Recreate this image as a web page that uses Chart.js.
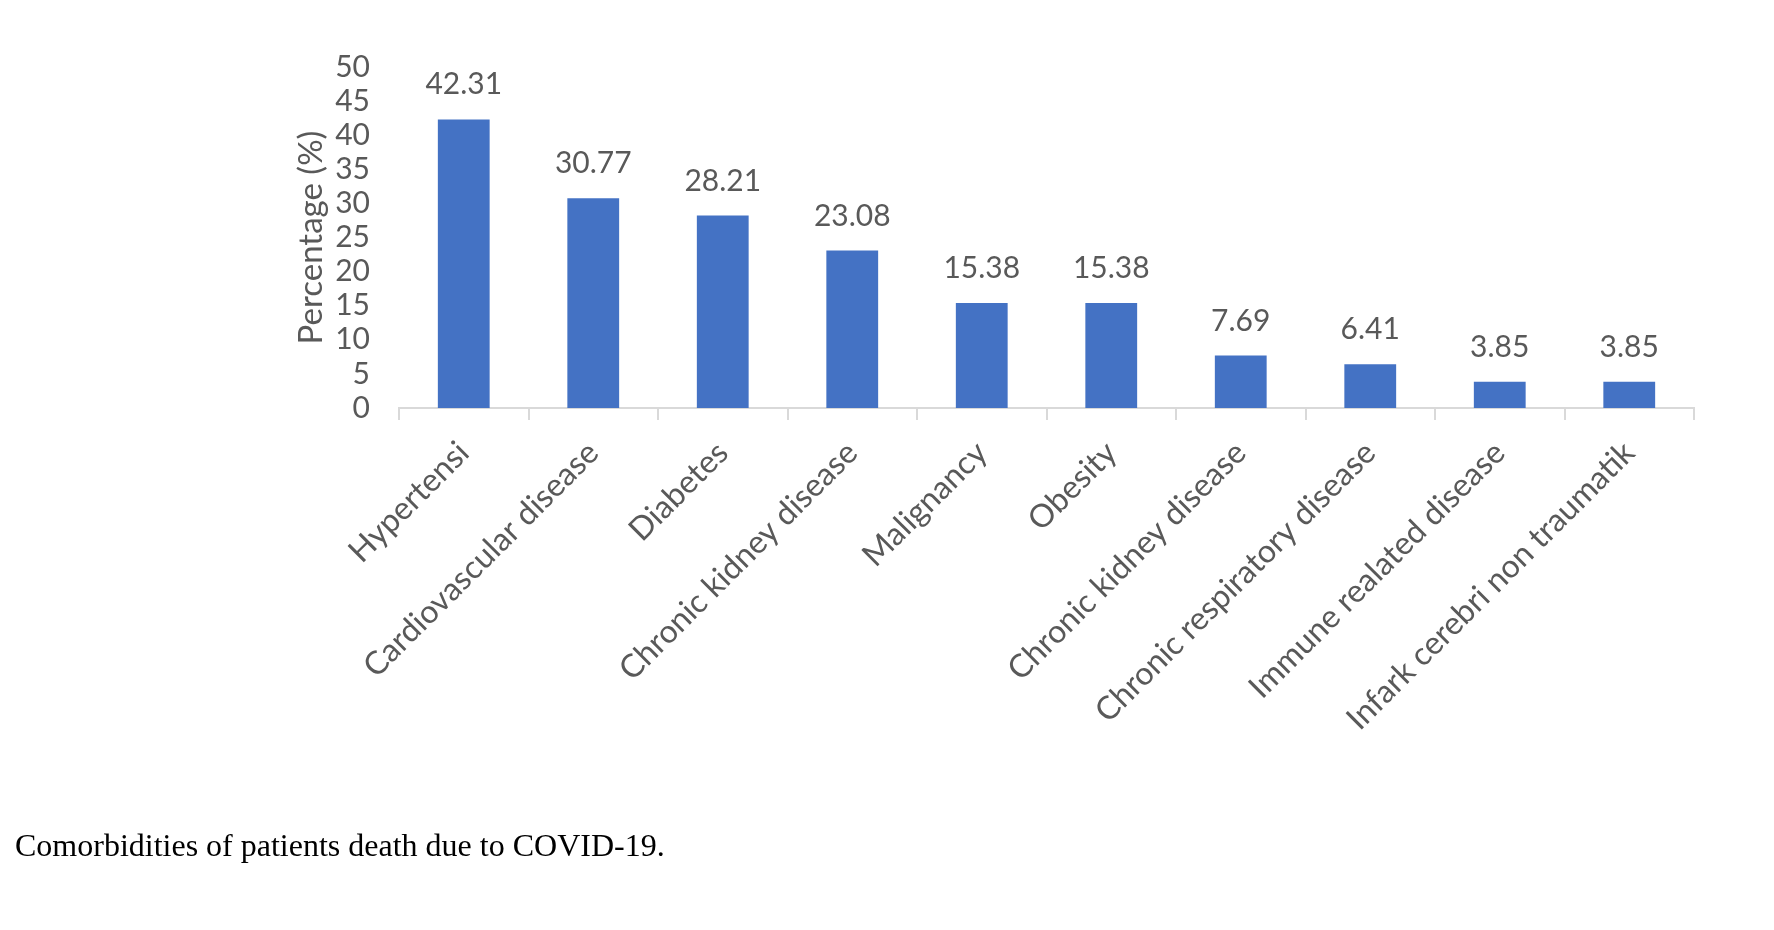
<!DOCTYPE html>
<html>
<head>
<meta charset="utf-8">
<title>Comorbidities of patients death due to COVID-19</title>
<script src="https://cdn.jsdelivr.net/npm/chart.js@4/dist/chart.umd.min.js"></script>
<style>
  body { margin: 0; background: #fff; }
  .wrap { position: relative; width: 1774px; height: 930px; }
  #chart { position: absolute; left: 0; top: 0; }
  .caption {
    position: absolute; left: 15px; top: 829px;
    font-family: "Liberation Serif", "Times New Roman", serif;
    font-size: 32px; line-height: 32px; color: #000;
  }
</style>
</head>
<body>
<div class="wrap">
  <canvas id="chart" width="1774" height="930"></canvas>
  <div class="caption">Comorbidities of patients death due to COVID-19.</div>
</div>
<script>
const categories = [
  'Hypertensi',
  'Cardiovascular disease',
  'Diabetes',
  'Chronic kidney disease',
  'Malignancy',
  'Obesity',
  'Chronic kidney disease',
  'Chronic respiratory disease',
  'Immune realated disease',
  'Infark cerebri non traumatik',
];
const percentages = [42.31, 30.77, 28.21, 23.08, 15.38, 15.38, 7.69, 6.41, 3.85, 3.85];
const yTicks = [0, 5, 10, 15, 20, 25, 30, 35, 40, 45, 50];

const textColor = '#595959';
const fontFamily = 'Lato, "Open Sans", sans-serif';

// value labels above each bar
const valueLabels = {
  id: 'valueLabels',
  afterDatasetsDraw(chart) {
    const { ctx } = chart;
    const meta = chart.getDatasetMeta(0);
    ctx.save();
    ctx.font = '30px ' + fontFamily;
    ctx.fillStyle = textColor;
    ctx.textAlign = 'center';
    ctx.textBaseline = 'alphabetic';
    meta.data.forEach((bar, i) => {
      ctx.fillText(percentages[i].toFixed(2), bar.x, bar.y - 25);
    });
    ctx.restore();
  },
};

const ctx = document.getElementById('chart').getContext('2d');
const chart = new Chart(ctx, {
  type: 'bar',
  data: {
    labels: categories,
    datasets: [{
      data: percentages,
      backgroundColor: '#4472C4',
      categoryPercentage: 1,
      barPercentage: 0.4,
    }],
  },
  options: {
    responsive: false,
    animation: false,
    devicePixelRatio: 1,
    layout: { padding: { left: 290, top: 67, right: 80, bottom: 0 } },
    plugins: {
      legend: { display: false },
      tooltip: { enabled: false },
    },
    scales: {
      x: {
        offset: true,
        grid: {
          offset: true,
          drawOnChartArea: false,
          drawTicks: true,
          tickLength: 12,
          color: '#d9d9d9',
          lineWidth: 2,
        },
        border: { display: true, color: '#d9d9d9', width: 2 },
        ticks: {
          autoSkip: false,
          minRotation: 45,
          maxRotation: 45,
          padding: 14,
          color: textColor,
          font: { family: fontFamily, size: 32 },
        },
        afterFit: (scale) => { scale.height = 930 - 408; },
      },
      y: {
        min: 0,
        max: 50,
        afterBuildTicks: (scale) => { scale.ticks = yTicks.map((v) => ({ value: v })); },
        grid: { display: false, drawTicks: false },
        border: { display: false },
        ticks: {
          autoSkip: false,
          padding: 29,
          color: textColor,
          font: { family: fontFamily, size: 30 },
        },
        title: {
          display: true,
          text: 'Percentage (%)',
          color: textColor,
          padding: { top: 2, bottom: 0 },
          font: { family: fontFamily, size: 33 },
        },
        afterFit: (scale) => { scale.width = 399 - 290; },
      },
    },
  },
  plugins: [valueLabels],
});
</script>
</body>
</html>
